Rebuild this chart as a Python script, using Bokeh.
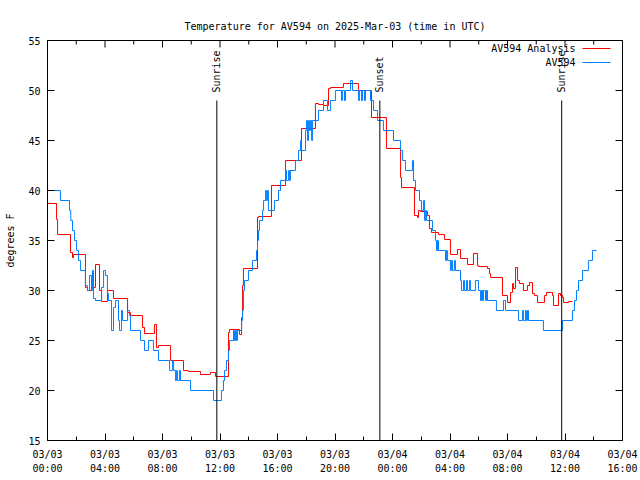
import numpy as np
from bokeh.plotting import figure
from bokeh.models import FixedTicker, Label, Arrow, Range1d
from bokeh.core.properties import value
from bokeh.embed import file_html
from bokeh.resources import INLINE

# ---------------- data (hours since 2025-03-03 00:00 UTC, degrees F) ----------------
obs_hours = [0.00, 0.90, 1.53, 1.62, 1.74, 1.88, 2.02, 2.16, 2.30, 2.64, 2.78, 2.92, 3.06, 3.13,
             3.20, 3.34, 3.76, 3.90, 4.03, 4.17, 4.24, 4.45, 4.59, 4.73, 4.94, 5.01, 5.15, 5.22,
             5.57, 5.70, 5.77, 6.47, 6.75, 7.03, 7.37, 7.72, 8.49, 8.70, 8.77, 8.90, 8.97, 9.04,
             9.18, 9.25, 9.95, 11.55, 12.10, 12.24, 12.31, 12.45, 12.59, 12.66, 12.94, 13.01,
             13.08, 13.15, 13.22, 13.50, 13.57, 13.63, 13.70, 13.98, 14.26, 14.54, 14.61, 14.68,
             14.75, 14.96, 15.03, 15.17, 15.23, 15.30, 15.37, 15.79, 16.07, 16.21, 16.56, 16.63,
             16.77, 16.84, 16.90, 17.25, 17.46, 17.60, 17.67, 17.95, 18.02, 18.09, 18.16, 18.23,
             18.30, 18.37, 18.44, 18.85, 19.20, 19.48, 19.69, 20.03, 20.45, 20.52, 20.66, 20.73,
             21.08, 21.22, 21.63, 21.70, 21.84, 21.91, 22.05, 22.12, 22.47, 22.68, 22.96, 23.37,
             24.07, 24.56, 24.70, 24.90, 25.39, 25.46, 25.60, 25.88, 26.02, 26.16, 26.23, 26.30,
             26.37, 26.78, 26.99, 27.06, 27.13, 27.20, 27.69, 27.76, 27.83, 28.03, 28.10, 28.17,
             28.31, 28.38, 28.73, 28.80, 28.94, 29.01, 29.15, 29.22, 29.36, 29.43, 29.77, 29.98,
             30.12, 30.19, 30.26, 30.33, 30.47, 30.54, 30.61, 31.23, 31.72, 31.86, 32.77, 33.04,
             33.11, 33.25, 33.32, 33.39, 33.46, 34.50, 35.83, 36.52, 36.66, 36.80, 36.94, 37.22,
             37.63, 37.91, 38.19]
obs_temp = [40, 39, 38, 37, 36, 35, 34, 33, 32, 30.5, 30, 31.5, 30, 32,
            29.2, 29, 30.3, 32, 31.5, 29.7, 29, 26, 28.3, 29, 27, 26, 28, 27,
            28, 27.5, 26, 25, 24, 25, 24, 23, 22, 23, 22, 21, 22, 21,
            22, 21, 20, 19, 20, 21, 22, 23, 24, 25, 26, 25,
            26, 25, 26, 27, 28, 30, 31, 32, 33, 34, 35, 36,
            37, 38, 39, 40, 39, 40, 38, 39, 40, 41, 42, 41,
            42, 41, 42, 43, 44, 45, 44, 46, 47, 45, 47, 46,
            47, 45, 47, 48, 49, 48, 49, 50, 49, 50, 49, 50,
            51, 50, 49, 50, 49, 50, 49, 50, 49, 48, 47, 46,
            45, 44, 43, 42, 43, 41, 40, 39, 38, 39, 37, 38,
            37, 36, 35, 34, 35, 34, 33, 34, 33, 32, 33, 32,
            33, 32, 31, 30, 31, 30, 31, 30, 31, 30, 31, 30,
            29, 30, 29, 30, 29, 30, 29, 28, 29, 28, 27, 28,
            27, 28, 27, 28, 27, 26, 27, 28, 29, 30, 31, 32,
            33, 34, 34]

ana_hours = [0.00, 0.63, 0.70, 1.60, 1.74, 1.81, 2.64, 2.78, 3.06, 3.34, 3.62, 3.76, 4.17, 4.59,
             5.57, 5.77, 6.61, 6.75, 7.44, 7.58, 7.72, 8.56, 9.46, 9.81, 10.64, 11.34, 11.69,
             12.59, 12.66, 13.36, 13.50, 13.57, 13.63, 14.61, 14.68, 15.58, 16.56, 17.67, 18.64,
             18.85, 19.20, 19.55, 19.69, 20.59, 21.63, 22.54, 23.58, 24.56, 24.63, 25.53, 25.74,
             25.81, 25.95, 26.43, 26.57, 26.71, 27.20, 27.62, 28.03, 28.52, 28.73, 29.22, 29.63,
             29.91, 29.98, 30.61, 30.75, 30.82, 31.65, 32.00, 32.21, 32.35, 32.42, 32.56, 32.70,
             32.83, 33.11, 33.39, 33.53, 33.74, 33.88, 34.09, 34.57, 34.71, 35.13, 35.20, 35.55,
             35.69, 35.83, 35.90, 36.24, 36.52]
ana_temp = [38.7, 37.1, 35.6, 33.8, 33.3, 33.6, 30.3, 30.0, 30.3, 32.6, 30.0, 28.9, 30.0, 29.2,
            27.8, 27.5, 26.3, 25.7, 26.6, 24.3, 24.5, 23.0, 22.0, 21.9, 21.6, 21.8, 21.4,
            25.8, 26.1, 25.6, 27.3, 30.5, 32.2, 37.3, 37.4, 40.5, 43.0, 46.2, 48.7,
            48.6, 48.5, 50.2, 50.3, 50.7, 50.0, 47.3, 44.2, 41.3, 40.3, 37.5, 37.3,
            38.0, 37.9, 37.5, 36.2, 35.8, 35.6, 35.1, 33.6, 34.1, 33.2, 32.6, 33.7,
            32.5, 32.4, 32.2, 31.7, 31.3, 29.5, 28.8, 29.8, 30.7, 30.2, 32.3, 31.0,
            30.7, 30.0, 30.5, 30.8, 29.7, 29.5, 28.8, 29.5, 29.8, 29.5, 28.5, 29.7,
            29.5, 29.3, 28.8, 28.9, 28.9]

event_hours = [11.78, 23.12, 35.77]
event_names = ["Sunrise", "Sunset", "Sunrise"]
event_top = 49

x_ticks = [0, 4, 8, 12, 16, 20, 24, 28, 32, 36, 40]
x_tick_labels = ["03/03\n00:00", "03/03\n04:00", "03/03\n08:00", "03/03\n12:00",
                 "03/03\n16:00", "03/03\n20:00", "03/04\n00:00", "03/04\n04:00",
                 "03/04\n08:00", "03/04\n12:00", "03/04\n16:00"]
y_ticks = [15, 20, 25, 30, 35, 40, 45, 50, 55]

title_text = "Temperature for AV594 on 2025-Mar-03 (time in UTC)"
series_names = ["AV594 Analysis", "AV594"]
series_colors = ["#ff0000", "#0080ff"]

FONT = "DejaVu Sans Mono"
FS = "10px"
FRAME_H = 400

p = figure(width=640, height=480,
           x_range=Range1d(x_ticks[0], x_ticks[-1]), y_range=Range1d(y_ticks[0], y_ticks[-1]),
           output_backend="svg", toolbar_location=None, title=title_text,
           min_border_left=47, min_border_right=18, min_border_top=40, min_border_bottom=40)
p.background_fill_color = "white"
p.border_fill_color = "white"
p.outline_line_color = "black"
p.outline_line_width = 1
p.outline_line_alpha = 1
p.grid.visible = False

p.title.align = "center"
p.title.vertical_align = "middle"
p.title.standoff = 15
p.title.text_font = FONT
p.title.text_font_size = FS
p.title.text_font_style = "normal"
p.title.text_color = "black"

minor = [(a + b) / 2 for a, b in zip(x_ticks[:-1], x_ticks[1:])]

xa = p.xaxis[0]
xa.ticker = FixedTicker(ticks=x_ticks, minor_ticks=minor)
xa.major_label_overrides = {t: lab for t, lab in zip(x_ticks, x_tick_labels)}
ya = p.yaxis[0]
ya.ticker = FixedTicker(ticks=y_ticks)
ya.axis_label = "degrees F"
ya.axis_label_text_font = FONT
ya.axis_label_text_font_size = FS
ya.axis_label_text_font_style = "normal"
ya.axis_label_text_color = "black"
ya.axis_label_standoff = 9

for ax in (xa, ya):
    ax.axis_line_color = None
    ax.major_tick_in = 7
    ax.major_tick_out = 0
    ax.minor_tick_in = 4
    ax.minor_tick_out = 0
    ax.major_tick_line_color = "black"
    ax.major_label_text_font = FONT
    ax.major_label_text_font_size = FS
    ax.major_label_text_color = "black"
xa.minor_tick_line_color = "black"
ya.minor_tick_line_color = None
xa.major_label_standoff = 8
xa.major_label_text_line_height = 1.3
ya.major_label_standoff = 7

# mirrored ticks on the top and right edges (clipped to the frame, so only the inner half shows)
p.scatter(x=x_ticks, y=[y_ticks[-1]] * len(x_ticks), marker="dash", angle=np.pi / 2,
          size=14, line_color="black", line_width=1)
p.scatter(x=minor, y=[y_ticks[-1]] * len(minor), marker="dash", angle=np.pi / 2,
          size=8, line_color="black", line_width=1)
p.scatter(x=[x_ticks[-1]] * len(y_ticks), y=y_ticks, marker="dash", angle=0,
          size=14, line_color="black", line_width=1)

# data lines
p.step(ana_hours, ana_temp, mode="after", line_color=series_colors[0], line_width=1)
p.step(obs_hours, obs_temp, mode="after", line_color=series_colors[1], line_width=1)

# sunrise / sunset markers
p.segment(x0=event_hours, y0=[y_ticks[0]] * len(event_hours), x1=event_hours,
          y1=[event_top] * len(event_hours), line_color="black", line_width=1)
p.text(x=event_hours, y=[event_top] * len(event_hours), text=event_names,
       angle=np.pi / 2, text_align="left", text_baseline="middle", y_offset=-8,
       text_font=value(FONT), text_font_size=FS, text_color="black")

# legend (text to the left of the sample line, as in the reference)
for i, (name, col) in enumerate(zip(series_names, series_colors)):
    yy = FRAME_H - 8 - 14 * i
    p.add_layout(Label(x=528, y=yy, x_units="screen", y_units="screen", text=name,
                       text_align="right", text_baseline="middle",
                       text_font=FONT, text_font_size=FS, text_color="black"))
    p.add_layout(Arrow(x_start=535, y_start=yy, x_end=563, y_end=yy,
                       start_units="screen", end_units="screen", end=None,
                       line_color=col, line_width=1))

open("out.html", "w").write(file_html(p, INLINE))
